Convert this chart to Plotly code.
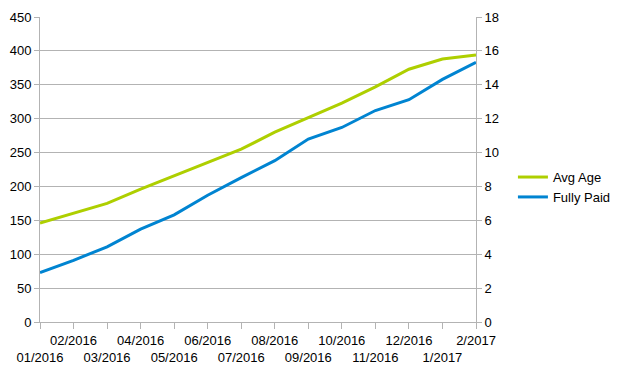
import plotly.graph_objects as go

months = ["01/2016", "02/2016", "03/2016", "04/2016", "05/2016", "06/2016", "07/2016",
          "08/2016", "09/2016", "10/2016", "11/2016", "12/2016", "1/2017", "2/2017"]
avg_age = [146, 161, 175, 196, 216, 235, 255, 280, 301, 323, 347, 373, 388, 394]
fully_paid = [2.92, 3.64, 4.44, 5.48, 6.32, 7.48, 8.52, 9.52, 10.8, 11.48, 12.48, 13.12, 14.32, 15.32]

left_ticks = [0, 50, 100, 150, 200, 250, 300, 350, 400, 450]
right_ticks = [0, 2, 4, 6, 8, 10, 12, 14, 16, 18]

# staggered category labels: even index on lower row, odd on upper row
tick_text = [("<br>" + m) if i % 2 == 0 else m for i, m in enumerate(months)]

GREEN = "#aecf00"
BLUE = "#0084d1"
GRID = "#b3b3b3"
FONT = dict(family="Liberation Sans, Arial, sans-serif", size=13, color="#000000")

fig = go.Figure()
fig.add_trace(go.Scatter(x=list(range(len(months))), y=avg_age, name="Avg Age",
                         mode="lines", line=dict(color=GREEN, width=3), yaxis="y"))
fig.add_trace(go.Scatter(x=list(range(len(months))), y=fully_paid, name="Fully Paid",
                         mode="lines", line=dict(color=BLUE, width=3), yaxis="y2"))

fig.update_layout(
    width=624, height=369,
    margin=dict(l=40, r=148, t=17, b=47, autoexpand=False),
    paper_bgcolor="white", plot_bgcolor="white",
    font=FONT,
    showlegend=True,
    legend=dict(xref="container", yref="container", x=0.822, y=0.493,
                xanchor="left", yanchor="middle",
                font=dict(family="Liberation Sans, Arial, sans-serif", size=13, color="#000"),
                itemwidth=30, tracegroupgap=0, bgcolor="rgba(0,0,0,0)"),
    xaxis=dict(
        range=[0, len(months) - 1], automargin=False,
        tickmode="array", tickvals=list(range(len(months))), ticktext=tick_text,
        showgrid=False, zeroline=False,
        showline=True, linecolor=GRID, linewidth=1,
        ticks="outside", ticklen=6, tickcolor=GRID, tickangle=0,
        tickfont=FONT,
    ),
    yaxis=dict(
        range=[0, 450], tickmode="array", tickvals=left_ticks, automargin=False,
        showgrid=True, gridcolor=GRID, gridwidth=1, zeroline=False,
        showline=True, linecolor=GRID, linewidth=1,
        ticks="outside", ticklen=5, tickcolor=GRID,
        tickfont=FONT,
    ),
    yaxis2=dict(
        range=[0, 18], tickmode="array", tickvals=right_ticks, automargin=False,
        overlaying="y", side="right",
        showgrid=False, zeroline=False,
        showline=True, linecolor=GRID, linewidth=1,
        ticks="outside", ticklen=5, tickcolor=GRID,
        tickfont=FONT,
    ),
)

fig.write_html("out.html")
